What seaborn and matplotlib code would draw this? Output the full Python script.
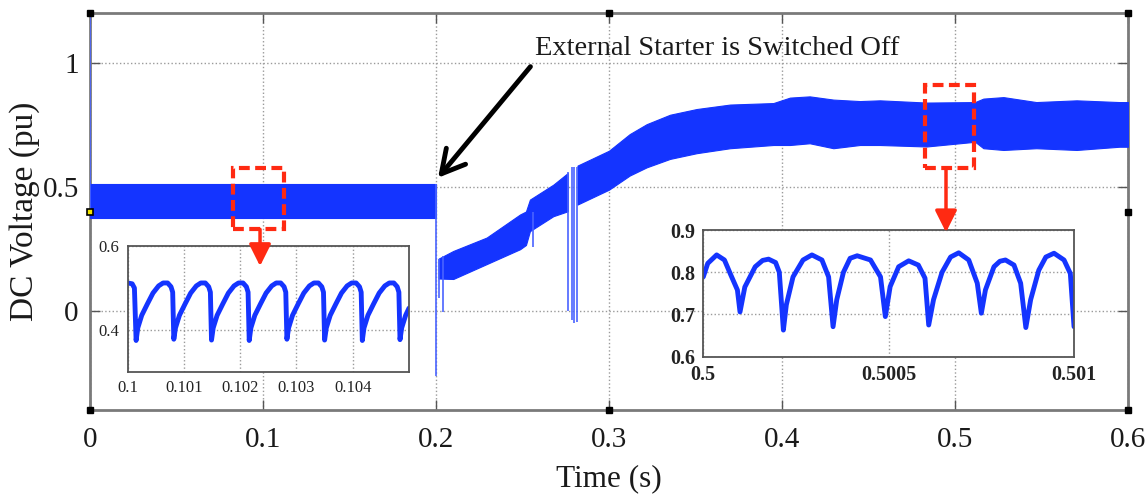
import matplotlib
matplotlib.use("Agg")
import matplotlib.pyplot as plt
from matplotlib.patches import Rectangle, ConnectionPatch
import seaborn as sns

# ---------------- data ----------------
# ripple envelope of the DC link voltage (pu) over time (s)
band_a_t = [0.0, 0.2]
band_a_lo = [0.375, 0.375]
band_a_hi = [0.512, 0.512]

band_b_t = [0.2015, 0.210, 0.2293, 0.2486, 0.2520, 0.2543, 0.2678, 0.2762]
band_b_lo = [0.130, 0.128, 0.188, 0.248, 0.265, 0.321, 0.381, 0.401]
band_b_hi = [0.210, 0.241, 0.295, 0.388, 0.400, 0.448, 0.508, 0.555]

band_c_t = [0.2818, 0.2900, 0.300, 0.312, 0.3218, 0.3353, 0.3507, 0.370, 0.395,
            0.4046, 0.416, 0.4297, 0.445, 0.4566, 0.4836, 0.5116, 0.5164, 0.528,
            0.547, 0.5703, 0.595, 0.6]
band_c_lo = [0.428, 0.455, 0.488, 0.545, 0.578, 0.612, 0.635, 0.655, 0.668,
             0.668, 0.675, 0.655, 0.668, 0.668, 0.662, 0.681, 0.655, 0.648,
             0.655, 0.648, 0.661, 0.661]
band_c_hi = [0.585, 0.612, 0.645, 0.712, 0.752, 0.790, 0.813, 0.831, 0.837,
             0.859, 0.864, 0.851, 0.845, 0.848, 0.839, 0.841, 0.855, 0.861,
             0.841, 0.848, 0.841, 0.841]

# transient spikes (time, min, max)
spike_t = [0.0, 0.2, 0.2019, 0.2043, 0.2563, 0.2765, 0.2784, 0.2798, 0.2813]
spike_lo = [0.40, -0.264, 0.05, -0.005, 0.255, 0.001, -0.039, -0.05, -0.045]
spike_hi = [1.2, 0.512, 0.21, 0.22, 0.40, 0.56, 0.58, 0.58, 0.58]

# zoomed waveform around t = 0.1 s
inset1_t = [0.10000, 0.10008, 0.10012, 0.10015,
            0.10018, 0.10025, 0.10035, 0.10045, 0.10055, 0.10063, 0.10071, 0.10077, 0.10080, 0.10082,
            0.10085, 0.10092, 0.10102, 0.10112, 0.10122, 0.10130, 0.10138, 0.10144, 0.10147, 0.10149,
            0.10152, 0.10159, 0.10169, 0.10179, 0.10189, 0.10197, 0.10205, 0.10211, 0.10214, 0.10216,
            0.10219, 0.10226, 0.10236, 0.10246, 0.10256, 0.10264, 0.10272, 0.10278, 0.10281, 0.10283,
            0.10286, 0.10293, 0.10303, 0.10313, 0.10323, 0.10331, 0.10339, 0.10345, 0.10348, 0.10350,
            0.10353, 0.10360, 0.10370, 0.10380, 0.10390, 0.10398, 0.10406, 0.10412, 0.10415, 0.10417,
            0.10420, 0.10427, 0.10437, 0.10447, 0.10457, 0.10465, 0.10473, 0.10479, 0.10482, 0.10484,
            0.10487, 0.10494, 0.10500]
inset1_v = [0.512, 0.510, 0.500, 0.375,
            0.405, 0.435, 0.462, 0.488, 0.505, 0.512, 0.512, 0.503, 0.490, 0.378,
            0.405, 0.435, 0.462, 0.488, 0.505, 0.512, 0.512, 0.503, 0.490, 0.376,
            0.405, 0.435, 0.462, 0.488, 0.505, 0.512, 0.512, 0.503, 0.490, 0.375,
            0.405, 0.435, 0.462, 0.488, 0.505, 0.512, 0.512, 0.503, 0.490, 0.378,
            0.405, 0.435, 0.462, 0.488, 0.505, 0.512, 0.512, 0.503, 0.490, 0.376,
            0.405, 0.435, 0.462, 0.488, 0.505, 0.512, 0.512, 0.503, 0.490, 0.375,
            0.405, 0.435, 0.462, 0.488, 0.505, 0.512, 0.512, 0.503, 0.490, 0.377,
            0.405, 0.435, 0.452]

# zoomed waveform around t = 0.5 s
inset2_t = [0.500000, 0.500012, 0.500036, 0.500057, 0.500074, 0.500092, 0.500099,
            0.500112, 0.500140, 0.500160, 0.500176, 0.500195, 0.500205, 0.500216,
            0.500224, 0.500242, 0.500269, 0.500293, 0.500320, 0.500338, 0.500350,
            0.500360, 0.500378, 0.500396, 0.500415, 0.500451, 0.500478, 0.500491,
            0.500504, 0.500527, 0.500554, 0.500580, 0.500598, 0.500608,
            0.500621, 0.500644, 0.500667, 0.500689, 0.500716, 0.500739, 0.500750,
            0.500761, 0.500784, 0.500800, 0.500815, 0.500838, 0.500856, 0.500870,
            0.500883, 0.500905, 0.500924, 0.500946, 0.500973, 0.500990, 0.501000]
inset2_v = [0.789, 0.821, 0.841, 0.829, 0.794, 0.758, 0.706,
            0.765, 0.813, 0.828, 0.831, 0.823, 0.800, 0.663,
            0.723, 0.789, 0.829, 0.841, 0.829, 0.789, 0.671,
            0.735, 0.800, 0.833, 0.839, 0.829, 0.789, 0.695,
            0.766, 0.813, 0.827, 0.817, 0.786, 0.675,
            0.735, 0.800, 0.836, 0.846, 0.829, 0.774, 0.703,
            0.758, 0.813, 0.826, 0.829, 0.817, 0.774, 0.669,
            0.735, 0.805, 0.836, 0.845, 0.829, 0.797, 0.671]

main_xticks = [0, 0.1, 0.2, 0.3, 0.4, 0.5, 0.6]
main_xlabels = ["0", "0.1", "0.2", "0.3", "0.4", "0.5", "0.6"]
main_yticks = [0, 0.5, 1]
main_ylabels = ["0", "0.5", "1"]
inset1_xticks = [0.1, 0.101, 0.102, 0.103, 0.104]
inset1_yticks = [0.4, 0.6]
inset2_xticks = [0.5, 0.5005, 0.501]
inset2_yticks = [0.6, 0.7, 0.8, 0.9]

# ---------------- style ----------------
sns.set_theme(style="white")
plt.rcParams["font.family"] = ["Liberation Serif", "DejaVu Serif"]

BLUE = "#1434ff"
SPIKE = "#4a64ff"
RED = "#ff2a12"
FRAME = "#7a7a7a"
GRID = dict(color="#9a9a9a", linestyle=":", linewidth=1.0)

fig = plt.figure(figsize=(11.46, 5.0), dpi=100)
ax = fig.add_axes([0.0785, 0.18, 0.9058, 0.794])

for t, lo, hi in [(band_a_t, band_a_lo, band_a_hi),
                  (band_b_t, band_b_lo, band_b_hi),
                  (band_c_t, band_c_lo, band_c_hi)]:
    ax.fill_between(t, lo, hi, color=BLUE, linewidth=0.8, edgecolor=BLUE, zorder=3)
ax.vlines(spike_t, spike_lo, spike_hi, color=SPIKE, linewidth=1.2, zorder=3)

ax.set_xlim(0, 0.6)
ax.set_ylim(-0.4, 1.2)
ax.set_xticks(main_xticks, main_xlabels)
ax.set_yticks(main_yticks, main_ylabels)
ax.grid(True, **GRID)
ax.tick_params(direction="in", length=7, width=1.0, color="#555555",
               bottom=True, left=True, top=True, right=True,
               labelsize=21, labelcolor="#1a1a1a")
ax.tick_params(axis="x", pad=12)
ax.tick_params(axis="y", pad=8)
for s in ax.spines.values():
    s.set_color(FRAME)
    s.set_linewidth(2.0)
ax.set_xlabel("Time (s)", fontsize=22.5, color="#1a1a1a", labelpad=8)
ax.set_ylabel("DC Voltage (pu)", fontsize=24, color="#1a1a1a", labelpad=2)

# selection handles on the axes frame
ax.plot([0, 0.5, 1, 1, 0, 0.5, 1], [1, 1, 1, 0.5, 0, 0, 0], "s", ms=5,
        color="black", transform=ax.transAxes, clip_on=False, zorder=6)
ax.plot([0], [0.5], "s", ms=5, mfc="#f2e600", mec="black", mew=1.2,
        transform=ax.transAxes, clip_on=False, zorder=6)

ax.annotate("External Starter is Switched Off", xy=(0.2012, 0.536),
            xytext=(0.2572, 1.056), textcoords="data", ha="left", va="center",
            fontsize=20.5, color="#1a1a1a",
            arrowprops=dict(arrowstyle="->,head_length=0.55,head_width=0.3",
                            lw=3.5, color="black", relpos=(0, 0),
                            shrinkA=2, shrinkB=0, mutation_scale=30),
            zorder=7)

# dashed zoom windows
for x0, y0, w, h in [(0.0827, 0.328, 0.0294, 0.248), (0.4827, 0.576, 0.0283, 0.332)]:
    ax.add_patch(Rectangle((x0, y0), w, h, fill=False, edgecolor=RED,
                           linewidth=3, linestyle=(0, (2.6, 1.3)), zorder=5))

# ---------------- insets ----------------
def style_inset(a, xt, yt, size, weight):
    a.set_facecolor("white")
    a.set_xticks(xt)
    a.set_yticks(yt)
    a.set_xticklabels([f"{v:g}" for v in xt], fontsize=size, fontweight=weight)
    a.set_yticklabels([f"{v:g}" for v in yt], fontsize=size, fontweight=weight)
    a.grid(True, **GRID)
    a.tick_params(length=0, pad=6, labelcolor="#222222")
    a.set_xlabel("")
    a.set_ylabel("")
    for s in a.spines.values():
        s.set_color("#555555")
        s.set_linewidth(1.3)

ax1 = fig.add_axes([0.1114, 0.256, 0.2455, 0.252])
sns.lineplot(x=inset1_t, y=inset1_v, ax=ax1, color=BLUE, linewidth=3.5,
             sort=False, estimator=None, solid_joinstyle="round",
             solid_capstyle="round")
ax1.set_xlim(0.1, 0.105)
ax1.set_ylim(0.3, 0.6)
style_inset(ax1, inset1_xticks, inset1_yticks, 12, "normal")

ax2 = fig.add_axes([0.6137, 0.2866, 0.3235, 0.2534])
sns.lineplot(x=inset2_t, y=inset2_v, ax=ax2, color=BLUE, linewidth=3.5,
             sort=False, estimator=None, solid_joinstyle="round",
             solid_capstyle="round")
ax2.set_xlim(0.5, 0.501)
ax2.set_ylim(0.6, 0.9)
style_inset(ax2, inset2_xticks, inset2_yticks, 14.5, "bold")

# arrows from zoom windows to the insets
for x, y_start, y_end in [(0.0983, 0.328, 0.18), (0.4948, 0.576, 0.316)]:
    cp = ConnectionPatch(xyA=(x, y_start), coordsA=ax.transData,
                         xyB=(x, y_end), coordsB=ax.transData,
                         arrowstyle="-|>,head_length=0.6,head_width=0.3",
                         mutation_scale=22, color=RED, linewidth=2.5,
                         shrinkA=0, shrinkB=0)
    cp.set_zorder(10)
    fig.add_artist(cp)

fig.savefig("out.png", dpi=100)
